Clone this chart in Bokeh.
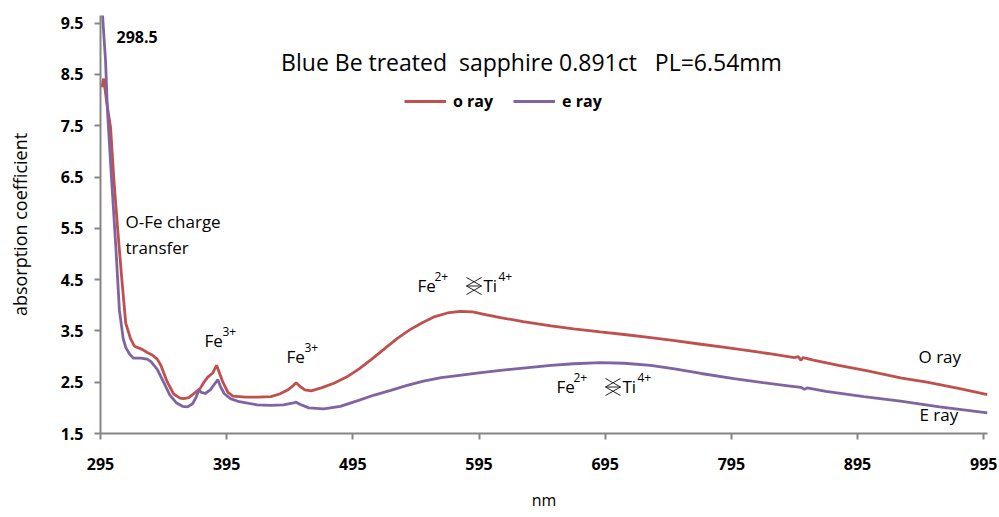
from bokeh.plotting import figure
from bokeh.models import Range1d, Legend, LegendItem, Label, FixedTicker, ColumnDataSource
from bokeh.embed import file_html
from bokeh.resources import INLINE

# ---------------- data ----------------
o_nm = [296, 297.5, 300, 303, 305.5, 308.5, 312, 315, 318.8, 322, 324, 328, 332, 336, 340,
        343, 345, 348, 353, 358, 361, 365, 370, 374, 377, 380, 384, 387, 389, 392, 396,
        400, 410, 420, 430, 437, 444, 448, 450, 453, 457, 462, 470, 480, 490, 500, 510,
        520, 530, 540, 550, 560, 570, 580, 590, 600, 612, 630, 652, 670, 691, 710, 731,
        750, 771, 790, 810, 824, 840, 845, 848, 850, 852, 860, 880, 903, 930, 950, 975, 998]
o_val = [8.25, 8.42, 7.95, 7.46, 6.49, 5.52, 4.48, 3.65, 3.35, 3.2, 3.18, 3.14, 3.08, 3.03, 2.95,
         2.82, 2.69, 2.5, 2.27, 2.19, 2.18, 2.2, 2.3, 2.38, 2.5, 2.6, 2.68, 2.83, 2.7, 2.5, 2.3,
         2.23, 2.21, 2.21, 2.22, 2.27, 2.36, 2.44, 2.49, 2.42, 2.35, 2.33, 2.39, 2.48, 2.6, 2.76, 2.95,
         3.15, 3.35, 3.52, 3.66, 3.78, 3.85, 3.88, 3.87, 3.82, 3.76, 3.68, 3.6, 3.54, 3.48, 3.43, 3.37,
         3.31, 3.24, 3.18, 3.11, 3.06, 3.0, 2.98, 3.0, 2.93, 2.98, 2.93, 2.83, 2.72, 2.58, 2.5, 2.38, 2.26]

e_nm = [295, 296.5, 299, 300.5, 303.7, 307, 310, 313, 315, 318, 321, 327, 332, 335, 340,
        345, 350, 355, 360, 364, 368, 371, 373, 375, 378, 382, 385, 388, 390, 393, 398,
        405, 419, 430, 440, 447, 450, 453, 460, 472, 485, 499, 512, 525, 538, 551, 565,
        578, 595, 612, 632, 652, 670, 691, 710, 731, 750, 771, 797, 820, 840, 850, 853,
        855, 870, 900, 929, 960, 998]
e_val = [9.9, 9.7, 8.77, 7.8, 6.49, 5.2, 3.9, 3.35, 3.18, 3.05, 2.97, 2.97, 2.95, 2.9, 2.75,
         2.5, 2.25, 2.1, 2.03, 2.02, 2.08, 2.22, 2.35, 2.3, 2.28, 2.35, 2.45, 2.55, 2.42, 2.28, 2.18,
         2.12, 2.06, 2.05, 2.06, 2.09, 2.11, 2.07, 2.0, 1.98, 2.03, 2.14, 2.25, 2.34, 2.44, 2.52, 2.59,
         2.63, 2.68, 2.73, 2.78, 2.83, 2.86, 2.88, 2.87, 2.83, 2.76, 2.67, 2.57, 2.49, 2.43, 2.4, 2.36,
         2.39, 2.32, 2.22, 2.13, 2.02, 1.9]

x_ticks = [295, 395, 495, 595, 695, 795, 895, 995]
y_ticks = [1.5, 2.5, 3.5, 4.5, 5.5, 6.5, 7.5, 8.5, 9.5]

title_text = "Blue Be treated\u00a0\u00a0sapphire 0.891ct\u00a0\u00a0\u00a0PL=6.54mm"
series_names = ["o ray", "e ray"]
colors = ["#C0504D", "#8064A2"]

# ---------------- layout ----------------
X0, X1 = 295, 998
Y0, Y1 = 1.5, 9.65
FL, FR, FT, FB = 100, 987, 15, 433


def dx(px):
    return X0 + (px - FL) * (X1 - X0) / (FR - FL)


def dy(py):
    return Y0 + (FB - py) * (Y1 - Y0) / (FB - FT)


p = figure(width=999, height=517, output_backend="svg", toolbar_location=None,
           x_range=Range1d(X0, X1), y_range=Range1d(Y0, Y1),
           min_border_left=FL, min_border_right=999 - FR,
           min_border_top=FT, min_border_bottom=517 - FB)
p.outline_line_color = None
p.grid.visible = False
p.background_fill_color = "white"
p.border_fill_color = "white"

src_o = ColumnDataSource(dict(x=o_nm, y=o_val))
src_e = ColumnDataSource(dict(x=e_nm, y=e_val))
r_o = p.line("x", "y", source=src_o, line_color=colors[0], line_width=2.8)
r_e = p.line("x", "y", source=src_e, line_color=colors[1], line_width=2.8)

FONT = "Open Sans"
AX = "#868686"
for ax in (p.xaxis[0], p.yaxis[0]):
    ax.axis_line_color = AX
    ax.axis_line_width = 2
    ax.major_tick_line_color = AX
    ax.major_tick_line_width = 2
    ax.major_tick_out = 6
    ax.major_tick_in = 0
    ax.minor_tick_line_color = None
    ax.major_label_text_font = FONT
    ax.major_label_text_font_style = "bold"
    ax.major_label_text_font_size = "16px"
    ax.major_label_text_color = "black"
    ax.axis_label_text_font = FONT
    ax.axis_label_text_font_style = "normal"
    ax.axis_label_text_color = "black"

p.xaxis.ticker = FixedTicker(ticks=x_ticks)
p.yaxis.ticker = FixedTicker(ticks=y_ticks)
p.xaxis.major_label_overrides = {t: str(t) for t in x_ticks}
p.yaxis.major_label_overrides = {t: f"{t:.1f}" for t in y_ticks}
p.xaxis.major_label_standoff = 18
p.yaxis.major_label_standoff = 11
p.xaxis.axis_label = "nm"
p.yaxis.axis_label = "absorption coefficient"
p.xaxis.axis_label_text_font_size = "16px"
p.yaxis.axis_label_text_font_size = "18px"
p.xaxis.axis_label_standoff = 16
p.yaxis.axis_label_standoff = 26

legend = Legend(items=[LegendItem(label=series_names[0], renderers=[r_o]),
                       LegendItem(label=series_names[1], renderers=[r_e])],
                orientation="horizontal", location=(304, 321),
                border_line_color=None, background_fill_alpha=0,
                padding=0, margin=0, spacing=20, glyph_width=42, glyph_height=18,
                label_standoff=7, label_height=18,
                label_text_font=FONT, label_text_font_size="16px",
                label_text_font_style="bold", label_text_color="black")
p.add_layout(legend)


def add_text(px, py, text, size="16px", style="normal", color="black"):
    p.add_layout(Label(x=dx(px), y=dy(py), text=text, text_font=FONT,
                       text_font_size=size, text_font_style=style, text_color=color,
                       text_align="left", text_baseline="middle"))


# title
p.add_layout(Label(x=dx(531), y=dy(61), text=title_text, text_font=FONT,
                   text_font_size="23px", text_color="black",
                   text_align="center", text_baseline="middle"))

add_text(116, 36, "298.5", size="16px", style="bold")
add_text(125, 221, "O-Fe charge", size="17px")
add_text(125, 247, "transfer", size="17px")

# Fe3+ labels
add_text(204, 340, "Fe", size="17px")
add_text(222, 331, "3+", size="12px")
add_text(286, 356, "Fe", size="17px")
add_text(304, 347, "3+", size="12px")

# Fe2+ <-> Ti4+ labels, with the crossed-arrow symbol drawn as thin strokes
sym_xs, sym_ys = [], []
for bx, by in [(417, 285), (556, 386)]:
    add_text(bx, by, "Fe", size="17px")
    add_text(bx + 17, by - 9, "2+", size="12px")
    l, r, t, b = bx + 49, bx + 64, by - 8, by + 9
    m = (t + b) / 2
    sym_xs += [[dx(l), dx(r), dx(l)], [dx(r), dx(l), dx(r)], [dx(l), dx(r)]]
    sym_ys += [[dy(t), dy(m), dy(b)], [dy(t), dy(m), dy(b)], [dy(m), dy(m)]]
    add_text(bx + 66, by, "Ti", size="17px")
    add_text(bx + 81, by - 9, "4+", size="12px")
p.multi_line(xs=sym_xs, ys=sym_ys, line_color="#222222", line_width=1)

add_text(918, 356, "O ray", size="17px")
add_text(919, 414, "E ray", size="17px")

open("out.html", "w").write(file_html(p, INLINE))
